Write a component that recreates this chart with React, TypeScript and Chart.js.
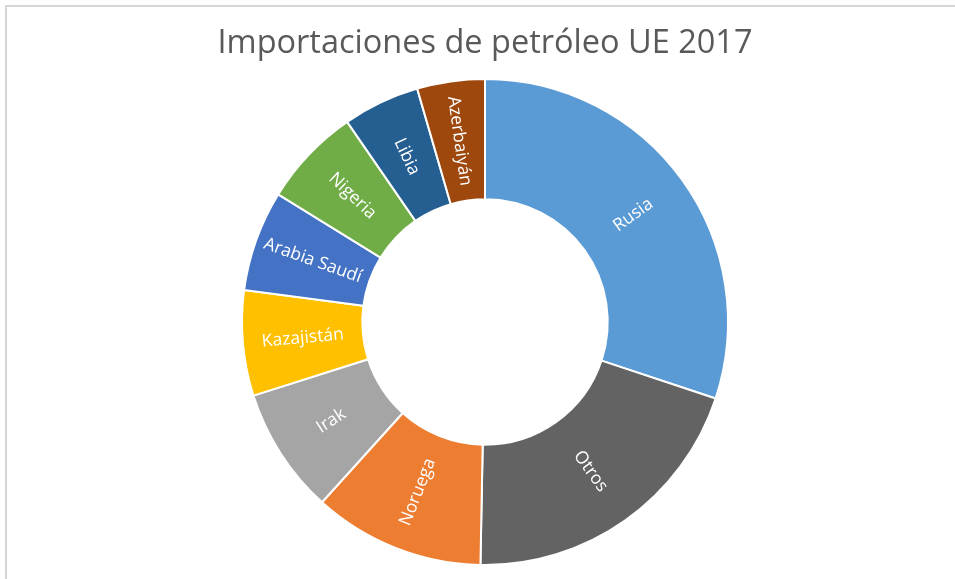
import React, { useEffect, useRef } from "react";
import { Chart, registerables } from "chart.js";

Chart.register(...registerables);

const categories = ["Rusia", "Otros", "Noruega", "Irak", "Kazajistán", "Arabia Saudí", "Nigeria", "Libia", "Azerbaiyán"];
const shares = [30.1, 20.2, 11.4, 8.4, 7.0, 6.7, 6.6, 5.1, 4.5];
const colors = ["#5B9BD5", "#636363", "#ED7D31", "#A5A5A5", "#FFC000", "#4472C4", "#70AD47", "#255E91", "#9E480E"];
const titleText = "Importaciones de petróleo UE 2017";

const FONT = "'Open Sans', 'DejaVu Sans', sans-serif";

const radialLabels = {
  id: "radialLabels",
  afterDatasetsDraw(chart: any) {
    const ctx = chart.ctx;
    const meta = chart.getDatasetMeta(0);
    ctx.save();
    ctx.fillStyle = "#FFFFFF";
    ctx.font = `17.5px ${FONT}`;
    ctx.textAlign = "center";
    ctx.textBaseline = "middle";
    meta.data.forEach((arc: any, i: number) => {
      const p = arc.getProps(["x", "y", "startAngle", "endAngle", "innerRadius", "outerRadius"], true);
      const mid = (p.startAngle + p.endAngle) / 2;
      const r = (p.innerRadius + p.outerRadius) / 2;
      const cx = p.x + Math.cos(mid) * r;
      const cy = p.y + Math.sin(mid) * r;
      let rot = mid;
      if (Math.cos(mid) < -1e-6) rot += Math.PI;
      ctx.save();
      ctx.translate(cx, cy);
      ctx.rotate(rot);
      ctx.fillText(categories[i], 0, 0);
      ctx.restore();
    });
    ctx.restore();
  },
};

export default function App() {
  const ref = useRef<HTMLCanvasElement | null>(null);
  useEffect(() => {
    document.body.style.margin = "0";
    const chart = new Chart(ref.current as HTMLCanvasElement, {
      type: "doughnut",
      data: {
        labels: categories,
        datasets: [
          {
            data: shares,
            backgroundColor: colors,
            borderColor: "#FFFFFF",
            borderWidth: 2,
          },
        ],
      },
      options: {
        responsive: false,
        animation: false,
        cutout: "50.5%",
        events: [],
        layout: { padding: { left: 15, right: 0, bottom: 13, top: 0 } },
        plugins: {
          legend: { display: false },
          tooltip: { enabled: false },
          title: {
            display: true,
            text: titleText,
            color: "#595959",
            font: { family: FONT, size: 32.5, weight: "normal", lineHeight: 1.2 },
            padding: { top: 24, bottom: 15 },
          },
        },
      },
      plugins: [radialLabels],
    });
    return () => chart.destroy();
  }, []);
  return (
    <div style={{ position: "relative", width: 955, height: 579, overflow: "hidden", background: "#FFFFFF" }}>
      <div
        style={{
          position: "absolute",
          left: 5,
          top: 5,
          width: 1200,
          height: 1200,
          borderTop: "2px solid #D6D6D6",
          borderLeft: "2px solid #D6D6D6",
        }}
      />
      <canvas ref={ref} width={955} height={579} style={{ position: "absolute", left: 0, top: 0 }} />
    </div>
  );
}
